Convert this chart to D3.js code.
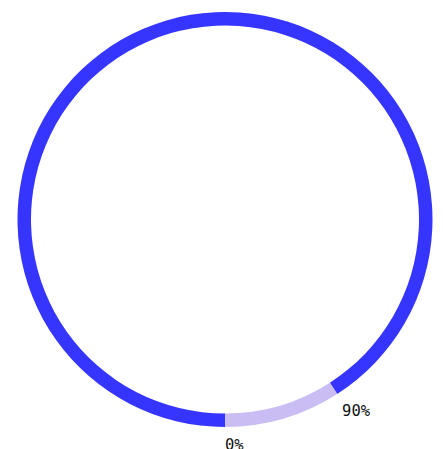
<!DOCTYPE html>
<html>
<head>
<meta charset="utf-8">
<script src="https://cdn.jsdelivr.net/npm/d3@7"></script>
<style>
  html, body { margin: 0; padding: 0; background: #fff; }
  svg { display: block; }
  .lbl { font-family: "DejaVu Sans Mono", monospace; font-size: 15.5px; fill: #111; }
</style>
</head>
<body>
<svg id="chart" width="443" height="449"></svg>
<script>
// Ring segments, in drawing order starting from 6 o'clock
const segments = ["main", "rest"];
const values = [90, 9];
const colors = ["#3535ff", "#c9bdf4"];

const width = 443, height = 449;
const cx = 225, cy = 219.5;
const outerR = 207.5, innerR = 194;
const labelR = 216.5;

const svg = d3.select("#chart");
const g = svg.append("g").attr("transform", `translate(${cx},${cy})`);

const pie = d3.pie()
  .sort(null)
  .value(d => d.value)
  .startAngle(Math.PI)
  .endAngle(3 * Math.PI);

const data = segments.map((s, i) => ({ name: s, value: values[i], color: colors[i] }));
const arcs = pie(data);

const arc = d3.arc().innerRadius(innerR).outerRadius(outerR);

g.selectAll("path.seg")
  .data(arcs)
  .join("path")
  .attr("class", "seg")
  .attr("d", arc)
  .attr("fill", d => d.data.color);

// Cumulative value label at the start of each segment
let cum = 0;
const labels = arcs.map(a => {
  const t = cum;
  cum += a.data.value;
  return { angle: a.startAngle, text: `${t}%` };
});

g.selectAll("text.lbl")
  .data(labels)
  .join("text")
  .attr("class", "lbl")
  .attr("x", d => labelR * Math.sin(d.angle))
  .attr("y", d => -labelR * Math.cos(d.angle))
  .attr("dy", 14)
  .attr("text-anchor", "start")
  .text(d => d.text);
</script>
</body>
</html>
